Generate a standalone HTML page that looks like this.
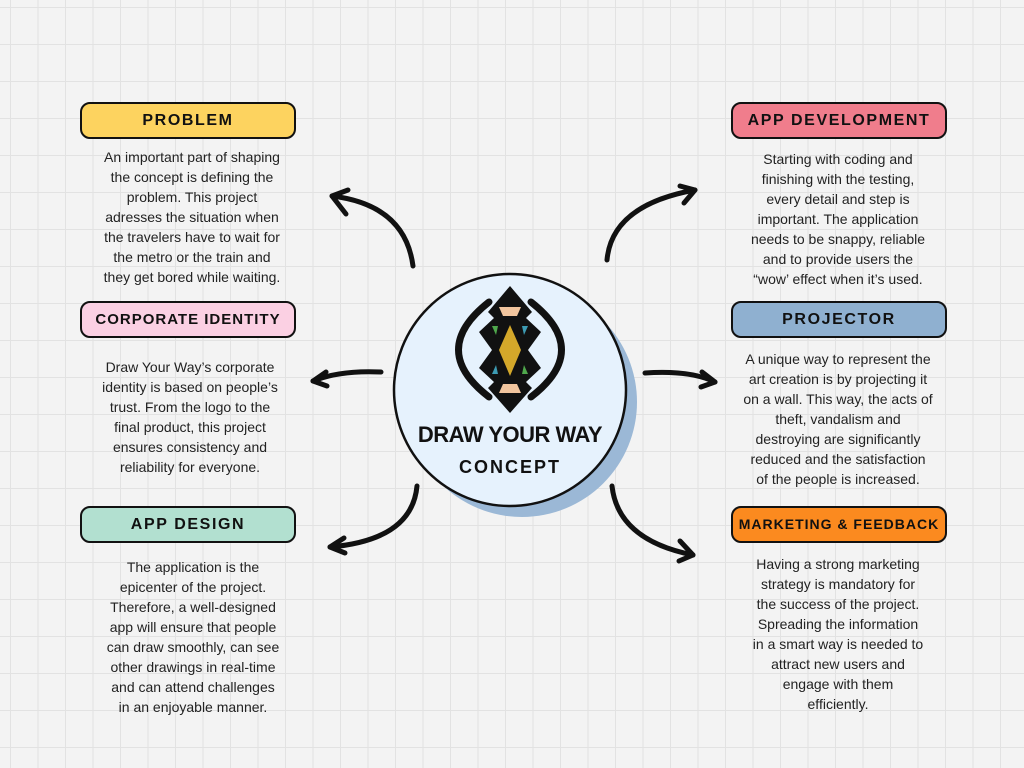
<!DOCTYPE html>
<html><head><meta charset="utf-8"><style>
body{margin:0;width:1024px;height:768px;overflow:hidden;background:#f3f3f3;position:relative;font-family:"Liberation Sans","DejaVu Sans",sans-serif;
background-image:linear-gradient(to right,#e2e2e2 1px,transparent 1px),linear-gradient(to bottom,#e2e2e2 1px,transparent 1px);
background-size:27.5px 37px;background-position:10px 7px;}
.box{position:absolute;width:212px;height:33px;border:2px solid #111;border-radius:10px;text-align:center;line-height:33px;font-weight:bold;font-size:16px;letter-spacing:1.6px;color:#111;white-space:nowrap;}
.t{position:absolute;width:230px;text-align:center;font-size:14px;line-height:20px;color:#222;}
</style></head><body>
<svg width="1024" height="768" style="position:absolute;left:0;top:0">
<circle cx="522" cy="402" r="115" fill="#9bb8d6"/>
<circle cx="510" cy="390" r="116" fill="#e6f2fd" stroke="#111" stroke-width="2.5"/>
<g fill="none" stroke="#111" stroke-width="5" stroke-linecap="round" stroke-linejoin="round">
<path d="M413 266 Q405 205 332 196"/><path d="M332 196 L348 190 M332 196 L346 214"/>
<path d="M607 260 Q612 205 695 190"/><path d="M695 190 L680 186 M695 190 L684 203"/>
<path d="M381 372 Q340 370 313 381"/><path d="M313 381 L326 372 M313 381 L327 386"/>
<path d="M645 373 Q690 370 715 382"/><path d="M715 382 L702 372 M715 382 L701 387"/>
<path d="M417 486 Q412 540 330 547"/><path d="M330 547 L344 538 M330 547 L345 553"/>
<path d="M612 486 Q618 540 693 555"/><path d="M693 555 L680 541 M693 555 L679 561"/>
</g>
<path d="M510 286 L532 312 L526 318 L541 332 L528 350 L541 368 L526 382 L532 388 L510 413 L488 388 L494 382 L479 368 L492 350 L479 332 L494 318 L488 312 Z" fill="#111"/>
<path d="M499 307 L521 307 L517 316 L503 316 Z" fill="#f2c59e"/>
<path d="M510 325 L521 350 L510 376 L499 350 Z" fill="#d4a82a"/>
<path d="M492 326 L498 326 L496 335 Z" fill="#4fa84c"/>
<path d="M522 326 L528 326 L524 335 Z" fill="#3d9bb3"/>
<path d="M492 374 L498 374 L496 365 Z" fill="#3d9bb3"/>
<path d="M522 374 L528 374 L524 365 Z" fill="#4fa84c"/>
<path d="M503 384 L517 384 L521 393 L499 393 Z" fill="#f2c59e"/>
<path d="M489 302 Q428 350 489 397" fill="none" stroke="#111" stroke-width="7" stroke-linecap="round"/>
<path d="M531 302 Q592 350 531 397" fill="none" stroke="#111" stroke-width="7" stroke-linecap="round"/>
<text x="510" y="442" text-anchor="middle" font-family="Liberation Sans" font-weight="bold" font-size="22" fill="#111" letter-spacing="-0.5">DRAW YOUR WAY</text>
<text x="510" y="473" text-anchor="middle" font-family="Liberation Sans" font-weight="bold" font-size="18" fill="#111" letter-spacing="2">CONCEPT</text>
</svg>
<div class="box" style="left:80px;top:102px;background:#fdd35f">PROBLEM</div>
<div class="box" style="left:731px;top:102px;background:#f07d8c">APP DEVELOPMENT</div>
<div class="box" style="left:80px;top:301px;background:#fbd0e3;font-size:15px;letter-spacing:1px">CORPORATE IDENTITY</div>
<div class="box" style="left:731px;top:301px;background:#8fb0d0">PROJECTOR</div>
<div class="box" style="left:80px;top:506px;background:#b2e0d0">APP DESIGN</div>
<div class="box" style="left:731px;top:506px;background:#fb8a1f;font-size:14px;letter-spacing:1px">MARKETING &amp; FEEDBACK</div>
<div class="t" style="left:77px;top:147px">An important part of shaping<br>the concept is defining the<br>problem. This project<br>adresses the situation when<br>the travelers have to wait for<br>the metro or the train and<br>they get bored while waiting.</div>
<div class="t" style="left:723px;top:149px">Starting with coding and<br>finishing with the testing,<br>every detail and step is<br>important. The application<br>needs to be snappy, reliable<br>and to provide users the<br>“wow’ effect when it’s used.</div>
<div class="t" style="left:75px;top:357px">Draw Your Way’s corporate<br>identity is based on people’s<br>trust. From the logo to the<br>final product, this project<br>ensures consistency and<br>reliability for everyone.</div>
<div class="t" style="left:723px;top:349px">A unique way to represent the<br>art creation is by projecting it<br>on a wall. This way, the acts of<br>theft, vandalism and<br>destroying are significantly<br>reduced and the satisfaction<br>of the people is increased.</div>
<div class="t" style="left:78px;top:557px">The application is the<br>epicenter of the project.<br>Therefore, a well-designed<br>app will ensure that people<br>can draw smoothly, can see<br>other drawings in real-time<br>and can attend challenges<br>in an enjoyable manner.</div>
<div class="t" style="left:723px;top:554px">Having a strong marketing<br>strategy is mandatory for<br>the success of the project.<br>Spreading the information<br>in a smart way is needed to<br>attract new users and<br>engage with them<br>efficiently.</div>
</body></html>
